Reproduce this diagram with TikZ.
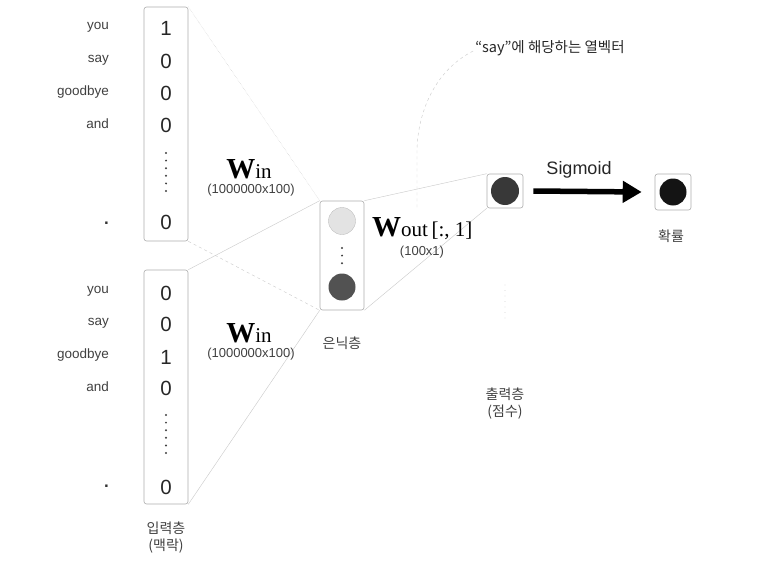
\documentclass[tikz,border=0pt]{standalone}
\usepackage{fontspec}
\setmainfont{Liberation Sans}
\newfontfamily\krfont{Noto Sans CJK KR}
\newfontfamily\wfont{Liberation Serif}
\usetikzlibrary{arrows.meta}
\begin{document}
\begin{tikzpicture}[x=1pt,y=-1pt,
  vecbox/.style={draw=gray!65, line width=0.6pt, rounded corners=2.5pt, inner sep=0pt, minimum width=44pt},
  digit/.style={font=\fontsize{20.5}{20}\selectfont, text=black!85, inner sep=0pt},
  word/.style={font=\fontsize{13.5}{14}\selectfont, anchor=east, text=black!75, inner sep=0pt},
  bigdot/.style={font=\bfseries\fontsize{17}{17}\selectfont, anchor=east, text=black!80, inner sep=0pt},
  small/.style={font=\fontsize{13}{13}\selectfont, text=black!75, inner sep=0pt},
  link/.style={draw=gray!40, line width=0.45pt},
  krlabel/.style={font=\krfont\fontsize{14}{17}\selectfont, text=black!75, align=center, inner sep=0pt},
  vdots/.style={line width=2.2pt, line cap=round, dash pattern=on 0pt off 7.6pt, draw=black!75},
  unit/.style={circle, inner sep=0pt, minimum size=27pt}
]
\useasboundingbox (0,0) rectangle (767,567);

% input boxes
\node[vecbox, minimum height=234pt] (ti) at (166,124) {};
\node[vecbox, minimum height=234pt] (bi) at (166,387) {};
% hidden
\node[vecbox, minimum height=109pt] (h) at (342,255.5) {};
% output
\node[vecbox, minimum width=36pt, minimum height=34pt] (o) at (505,191) {};
\node[vecbox, minimum width=36pt, minimum height=36pt] (p) at (673,192) {};

% connectors
\draw[link, densely dotted] (ti.north east) -- (h.north west);
\draw[link, dashed] (ti.south east) -- (h.south west);
\draw[link] (bi.north east) -- (h.north west);
\draw[link] (bi.south east) -- (h.south west);
\draw[link] (h.north east) -- (o.north west);
\draw[link] (h.south east) -- (o.south west);

% top input contents
\node[digit] (t1) at (166,28) {1};
\node[digit] (t2) at (166,61) {0};
\node[digit] (t3) at (166,93) {0};
\node[digit] (t4) at (166,125) {0};
\coordinate (tda) at (166,153);
\coordinate (tdb) at (166,192);
\draw[vdots] (tda) -- (tdb);
\node[digit] (t5) at (166,222) {0};
\node[word] (w1) at (109,27) {you};
\node[word] (w2) at (109,60) {say};
\node[word] (w3) at (109,92) {goodbye};
\node[word] (w4) at (109,124) {and};
\node[bigdot] (w5) at (109,223) {.};

% bottom input contents
\node[digit] (b1) at (166,293) {0};
\node[digit] (b2) at (166,324) {0};
\node[digit] (b3) at (166,357) {1};
\node[digit] (b4) at (166,388) {0};
\coordinate (bda) at (166,415);
\coordinate (bdb) at (166,454);
\draw[vdots] (bda) -- (bdb);
\node[digit] (b5) at (166,487) {0};
\node[word] (v1) at (109,291) {you};
\node[word] (v2) at (109,323) {say};
\node[word] (v3) at (109,355) {goodbye};
\node[word] (v4) at (109,387) {and};
\node[bigdot] (v5) at (109,486) {.};

\node[krlabel] (inlab) at (166,538) {입력층\\(맥락)};

% W_in labels
\node[anchor=base, inner sep=0pt] (win1) at (249,178) {{\wfont\bfseries\fontsize{29}{29}\selectfont W}{\wfont\fontsize{21}{21}\selectfont in}};
\node[small] (win1s) at (251,190) {(1000000x100)};
\node[anchor=base, inner sep=0pt] (win2) at (249,342) {{\wfont\bfseries\fontsize{29}{29}\selectfont W}{\wfont\fontsize{21}{21}\selectfont in}};
\node[small] (win2s) at (251,354) {(1000000x100)};

% hidden contents
\node[unit, fill=gray!22, draw=gray!50] (h1) at (342,221) {};
\coordinate (hda) at (342,248);
\coordinate (hdb) at (342,264);
\draw[vdots] (hda) -- (hdb);
\node[unit, fill=black!68] (h2) at (342,287) {};
\node[krlabel] (hlab) at (342,343) {은닉층};

% W_out label
\node[anchor=base west, inner sep=0pt] (wout) at (372,236) {{\wfont\bfseries\fontsize{29}{29}\selectfont W}{\wfont\fontsize{21}{21}\selectfont out\,[:, 1]}};
\node[small] (wouts) at (422,252) {(100x1)};

% output units
\node[unit, minimum size=28pt, fill=black!78] (o1) at (505,191) {};
\node[unit, fill=black!92] (p1) at (673,192) {};
\draw[line width=5.5pt, -{Triangle[length=19pt,width=21pt]}] ([xshift=10pt]o.east) -- ([xshift=-13pt]p.west);
\node[font=\fontsize{18}{18}\selectfont, text=black!85, inner sep=0pt] (sig) at (579,170) {Sigmoid};
\node[krlabel] (plab) at (671,236) {확률};

\coordinate (oda) at (505,285);
\coordinate (odb) at (505,323);
\draw[line width=0.8pt, line cap=round, dash pattern=on 0pt off 5.5pt, draw=gray!55] (oda) -- (odb);
\node[krlabel] (olab) at (505,404) {출력층\\(점수)};

% annotation
\node[font=\krfont\fontsize{14.5}{15}\selectfont, text=black!85, inner sep=0pt] (note) at (550,48) {“say”에 해당하는 열벡터};
\coordinate (ncurve) at (417,210);
\draw[link, dashed] ([xshift=-2pt,yshift=-3pt]note.west) .. controls (436,70) and (418,110) .. (417,150) -- (ncurve);
\end{tikzpicture}
\end{document}
